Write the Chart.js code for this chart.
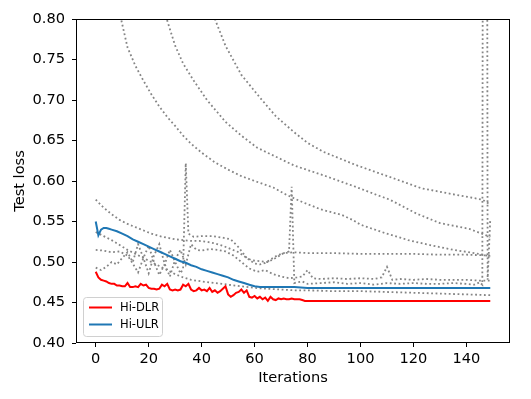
<!DOCTYPE html>
<html>
<head>
<meta charset="utf-8">
<script src="https://cdn.jsdelivr.net/npm/chart.js@4"></script>
<style>
  html, body { margin: 0; padding: 0; background: #fff; }
</style>
</head>
<body>
<canvas id="chart" width="531" height="399"></canvas>
<script>
// Axis ticks
const xTicks = [0, 20, 40, 60, 80, 100, 120, 140];
const yTicks = [0.40, 0.45, 0.50, 0.55, 0.60, 0.65, 0.70, 0.75, 0.80];

// Hi-DLR (red)
const dlrIters = [0, 1, 2, 3, 4, 5, 6, 7, 8, 9,
  10, 11, 12, 13, 14, 15, 16, 17, 18, 19,
  20, 21, 22, 23, 24, 25, 26, 27, 28, 29,
  30, 31, 32, 33, 34, 35, 36, 37, 38, 39,
  40, 41, 42, 43, 44, 45, 46, 47, 48, 49,
  50, 51, 52, 53, 54, 55, 56, 57, 58, 59,
  60, 61, 62, 63, 64, 65, 66, 67, 68, 69,
  70, 71, 72, 73, 74, 75, 76, 77, 78, 79,
  85, 90, 100, 110, 120, 130, 140, 149];
const dlrLoss = [0.488, 0.481, 0.478, 0.477, 0.476, 0.474, 0.473, 0.473, 0.471, 0.471,
  0.470, 0.470, 0.474, 0.469, 0.469, 0.470, 0.469, 0.473, 0.471, 0.472,
  0.468, 0.467, 0.467, 0.466, 0.467, 0.472, 0.470, 0.473, 0.466, 0.465,
  0.466, 0.465, 0.466, 0.472, 0.470, 0.473, 0.466, 0.464, 0.465, 0.468,
  0.465, 0.466, 0.464, 0.468, 0.463, 0.465, 0.462, 0.464, 0.467, 0.470,
  0.460, 0.457, 0.459, 0.462, 0.463, 0.466, 0.462, 0.465, 0.457, 0.456,
  0.458, 0.455, 0.457, 0.454, 0.456, 0.452, 0.457, 0.454, 0.453, 0.455,
  0.454, 0.455, 0.454, 0.454, 0.455, 0.454, 0.454, 0.454, 0.453, 0.452,
  0.452, 0.452, 0.452, 0.452, 0.452, 0.452, 0.452, 0.452];

// Hi-ULR (blue)
const ulrIters = [0, 1, 2, 3, 4, 5, 6, 8, 10, 12, 14, 16, 18, 20, 22, 24, 26, 28, 30, 32,
  34, 36, 38, 40, 42, 44, 46, 48, 50, 52, 54, 56, 58, 60, 62, 65, 70, 75, 80, 90, 100, 120, 149];
const ulrLoss = [0.550, 0.533, 0.540, 0.542, 0.542, 0.541, 0.540, 0.538, 0.535, 0.532,
  0.528, 0.525, 0.522, 0.519, 0.516, 0.513, 0.510, 0.507, 0.504, 0.501,
  0.499, 0.496, 0.494, 0.491, 0.489, 0.487, 0.485, 0.483, 0.481, 0.478,
  0.476, 0.474, 0.472, 0.470, 0.469, 0.469, 0.469, 0.469, 0.468, 0.468,
  0.468, 0.468, 0.468];

// other runs (grey dotted)
const run1Iters = [0, 3, 6, 9, 12, 15, 18, 21, 24, 27, 30, 33, 36, 40, 45, 50, 55, 60, 67, 72,
  78, 85, 93, 97, 100, 109, 118, 126, 135, 143, 149];
const run1Loss = [0.98, 0.91, 0.855, 0.808, 0.765, 0.742, 0.724, 0.707, 0.692, 0.679,
  0.668, 0.656, 0.646, 0.635, 0.623, 0.614, 0.606, 0.600, 0.592, 0.583,
  0.574, 0.565, 0.558, 0.552, 0.546, 0.536, 0.527, 0.521, 0.515, 0.511, 0.507];

const run2Iters = [0, 10, 20, 24, 27, 30, 33, 37, 42, 49, 55, 61, 68, 75, 86, 98, 106, 111, 114,
  121, 130, 141, 149];
const run2Loss = [1.4, 1.1, 0.89, 0.835, 0.798, 0.767, 0.745, 0.724, 0.700, 0.673, 0.656,
  0.641, 0.630, 0.619, 0.607, 0.593, 0.583, 0.577, 0.572, 0.560, 0.548, 0.541, 0.531];

const run3Iters = [0, 20, 35, 42, 45, 49, 55, 62, 68, 75, 80, 86, 98, 111, 123, 136, 146, 149];
const run3Loss = [1.7, 1.2, 0.93, 0.83, 0.800, 0.767, 0.731, 0.703, 0.680, 0.660, 0.647,
  0.636, 0.620, 0.605, 0.591, 0.583, 0.577, 0.571];

const run4Iters = [0, 3, 6, 9, 12, 15, 18, 21, 24, 27, 30, 33, 36, 39, 42, 45, 48, 51, 54, 57, 60,
  62, 64, 66, 68, 70, 72, 73, 74, 75, 76, 78, 80,
  85, 90, 95, 100, 105, 110, 115, 120, 125, 130, 135, 140,
  143, 145, 146, 147, 148, 149];
const run4Loss = [0.577, 0.567, 0.559, 0.552, 0.547, 0.543, 0.539, 0.535, 0.532, 0.530, 0.528,
  0.527, 0.526, 0.526, 0.525, 0.523, 0.520, 0.516, 0.512, 0.505, 0.498,
  0.497, 0.499, 0.503, 0.507, 0.510, 0.512, 0.513, 0.593, 0.474, 0.475, 0.476, 0.473,
  0.474, 0.475, 0.473, 0.474, 0.472, 0.474, 0.473, 0.474, 0.473, 0.473, 0.474, 0.473,
  0.472, 0.475, 0.472, 3.0, 0.478, 0.553];

const run5Iters = [0, 3, 6, 9, 12, 15, 18, 21, 24, 27, 30, 33, 36, 40, 45, 50, 55, 60, 65, 70,
  75, 80, 90, 100, 110, 120, 130, 140, 149];
const run5Loss = [0.537, 0.532, 0.527, 0.521, 0.515, 0.510, 0.505, 0.500, 0.495, 0.490,
  0.485, 0.481, 0.478, 0.476, 0.474, 0.472, 0.470, 0.468, 0.467, 0.466,
  0.465, 0.465, 0.464, 0.464, 0.463, 0.462, 0.461, 0.460, 0.459];

const run6Iters = [0, 3, 6, 9, 12, 14, 16, 18, 20, 22, 24, 26, 28, 30, 32, 33, 34, 35, 37, 40,
  44, 48, 51, 54, 57, 59, 62, 65, 68, 71, 75, 80, 90, 100, 110, 120, 130, 140, 149];
const run6Loss = [0.515, 0.514, 0.512, 0.513, 0.508, 0.498, 0.487, 0.505, 0.520, 0.500,
  0.484, 0.497, 0.515, 0.500, 0.486, 0.492, 0.622, 0.535, 0.531, 0.532,
  0.532, 0.530, 0.528, 0.518, 0.505, 0.502, 0.501, 0.500, 0.505, 0.511,
  0.512, 0.511, 0.511, 0.510, 0.510, 0.510, 0.509, 0.509, 0.508];

const run7Iters = [0, 2, 4, 6, 8, 10, 12, 14, 16, 18, 20, 22, 24, 26, 28, 30, 32, 34, 36, 38, 40,
  43, 46, 49, 52, 55, 58, 61, 64, 67, 70, 73, 76, 78, 80, 82, 85, 90, 95, 100, 105,
  108, 110, 112, 115, 120, 125, 130, 135, 140, 145, 149];
const run7Loss = [0.493, 0.490, 0.494, 0.500, 0.497, 0.505, 0.512, 0.500, 0.522, 0.505, 0.486,
  0.508, 0.522, 0.498, 0.482, 0.503, 0.515, 0.497, 0.522, 0.515, 0.514,
  0.516, 0.515, 0.513, 0.508, 0.500, 0.492, 0.488, 0.490, 0.485, 0.482, 0.480, 0.481,
  0.482, 0.490, 0.480, 0.479, 0.480, 0.479, 0.480, 0.479,
  0.481, 0.494, 0.478, 0.479, 0.478, 0.479, 0.478, 0.478, 0.478, 0.477, 0.477];

const greyRuns = [
  [run1Iters, run1Loss], [run2Iters, run2Loss], [run3Iters, run3Loss], [run4Iters, run4Loss],
  [run5Iters, run5Loss], [run6Iters, run6Loss], [run7Iters, run7Loss],
];

const FONT = "'DejaVu Sans', 'Liberation Sans', sans-serif";

function toPoints(xs, ys) {
  return xs.map((x, i) => ({ x: x, y: ys[i] }));
}

const datasets = [
  { label: 'Hi-DLR', data: toPoints(dlrIters, dlrLoss), borderColor: '#ff0000', borderWidth: 2 },
  { label: 'Hi-ULR', data: toPoints(ulrIters, ulrLoss), borderColor: '#1f77b4', borderWidth: 2 },
];
greyRuns.forEach(([xs, ys], i) => {
  datasets.push({
    label: 'run' + (i + 1),
    data: toPoints(xs, ys),
    borderColor: '#858585',
    borderWidth: 1.8,
    borderDash: [1.8, 2.6],
    borderCapStyle: 'butt',
  });
});

// frame + inner legend, drawn like matplotlib
const framePlugin = {
  id: 'frame',
  afterDraw(chart) {
    const { ctx, chartArea: a } = chart;
    ctx.save();
    ctx.strokeStyle = '#000';
    ctx.lineWidth = 1;
    ctx.strokeRect(Math.round(a.left) + 0.5, Math.round(a.top) + 0.5,
      Math.round(a.right - a.left) - 1, Math.round(a.bottom - a.top) - 1);

    // legend box
    const bx = 83.5, by = 297.5, bw = 79, bh = 39;
    ctx.beginPath();
    ctx.roundRect(bx, by, bw, bh, 3);
    ctx.fillStyle = 'rgba(255,255,255,0.8)';
    ctx.fill();
    ctx.strokeStyle = '#d0d0d0';
    ctx.stroke();

    const items = [['Hi-DLR', '#ff0000', 307.5], ['Hi-ULR', '#1f77b4', 324.5]];
    ctx.font = '11.5px ' + FONT;
    ctx.textBaseline = 'middle';
    items.forEach(([txt, col, y]) => {
      ctx.beginPath();
      ctx.strokeStyle = col;
      ctx.lineWidth = 2;
      ctx.moveTo(89, y);
      ctx.lineTo(112, y);
      ctx.stroke();
      ctx.fillStyle = '#000';
      ctx.fillText(txt, 120, y + 0.5);
    });
    ctx.restore();
  }
};

new Chart(document.getElementById('chart'), {
  type: 'line',
  data: { datasets },
  plugins: [framePlugin],
  options: {
    responsive: false,
    animation: false,
    devicePixelRatio: 1,
    layout: { padding: { top: 19, right: 21, left: 0, bottom: 0 } },
    elements: { point: { radius: 0 }, line: { tension: 0 } },
    plugins: { legend: { display: false }, tooltip: { enabled: false } },
    scales: {
      x: {
        type: 'linear',
        min: -7.45,
        max: 156.45,
        afterBuildTicks: (s) => { s.ticks = xTicks.map(v => ({ value: v })); },
        afterFit: (s) => { s.height = 56; },
        grid: { drawOnChartArea: false, drawTicks: true, tickLength: 4, tickColor: '#000' },
        border: { display: false },
        ticks: { color: '#000', padding: 3, font: { family: FONT, size: 14.6 }, maxRotation: 0,
          callback: (v) => String(v) },
        title: { display: true, text: 'Iterations', color: '#000',
          font: { family: FONT, size: 14.6 }, padding: { top: 0, bottom: 12 } },
      },
      y: {
        type: 'linear',
        min: 0.40,
        max: 0.80,
        afterBuildTicks: (s) => { s.ticks = yTicks.map(v => ({ value: v })); },
        afterFit: (s) => { s.width = 76; },
        grid: { drawOnChartArea: false, drawTicks: true, tickLength: 4, tickColor: '#000' },
        border: { display: false },
        ticks: { color: '#000', padding: 7, font: { family: FONT, size: 14.6 },
          callback: (v) => Number(v).toFixed(2) },
        title: { display: true, text: 'Test loss', color: '#000',
          font: { family: FONT, size: 14.6 }, padding: { top: 11, bottom: 0 } },
      },
    },
  },
});
</script>
</body>
</html>
